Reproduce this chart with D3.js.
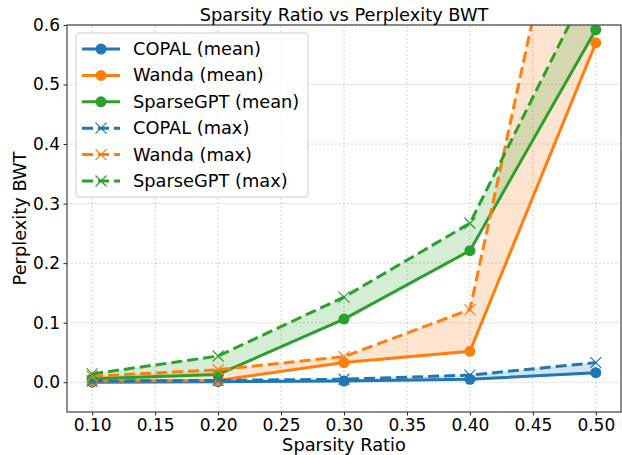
<!DOCTYPE html>
<html>
<head>
<meta charset="utf-8">
<script src="https://cdn.jsdelivr.net/npm/d3@7"></script>
<style>
  body { margin: 0; background: #fff; }
  text { font-family: "DejaVu Sans", sans-serif; fill: #000; }
</style>
</head>
<body>
<div id="chart"></div>
<script>
// values
var ratios = [0.1, 0.2, 0.3, 0.4, 0.5];
var copalMean = [0.000, 0.001, 0.002, 0.005, 0.016];
var copalMax = [0.002, 0.003, 0.005, 0.012, 0.033];
var wandaMean = [0.002, 0.003, 0.033, 0.052, 0.570];
var wandaMax = [0.010, 0.021, 0.043, 0.122, 1.10];
var sparseMean = [0.006, 0.013, 0.106, 0.221, 0.592];
var sparseMax = [0.014, 0.044, 0.143, 0.267, 0.69];
var xTicks = [0.10, 0.15, 0.20, 0.25, 0.30, 0.35, 0.40, 0.45, 0.50];
var yTicks = [0.0, 0.1, 0.2, 0.3, 0.4, 0.5, 0.6];

var methods = [
  { name: 'COPAL', color: '#1f77b4', mean: copalMean, max: copalMax },
  { name: 'Wanda', color: '#ff7f0e', mean: wandaMean, max: wandaMax },
  { name: 'SparseGPT', color: '#2ca02c', mean: sparseMean, max: sparseMax }
];

var width = 622, height = 455;
var margin = { left: 67, right: 1, top: 25, bottom: 43 };
var fontSize = '17.8px';

var x = d3.scaleLinear().domain([0.08, 0.52]).range([margin.left, width - margin.right]);
var y = d3.scaleLinear().domain([-0.05, 0.6]).range([height - margin.bottom, margin.top]);

var svg = d3.select('#chart').append('svg')
  .attr('width', width)
  .attr('height', height);

svg.append('defs').append('clipPath').attr('id', 'plot')
  .append('rect')
  .attr('x', margin.left).attr('y', margin.top)
  .attr('width', x.range()[1] - x.range()[0])
  .attr('height', y.range()[0] - y.range()[1]);

// grid
var grid = svg.append('g');
grid.selectAll('.gx').data(xTicks).enter().append('line')
  .attr('x1', function(d){ return x(d); }).attr('x2', function(d){ return x(d); })
  .attr('y1', y.range()[0]).attr('y2', y.range()[1])
  .attr('stroke', '#b0b0b0').attr('stroke-width', 0.8)
  .attr('stroke-dasharray', '2,2').attr('opacity', 0.7);
grid.selectAll('.gy').data(yTicks).enter().append('line')
  .attr('y1', function(d){ return y(d); }).attr('y2', function(d){ return y(d); })
  .attr('x1', x.range()[0]).attr('x2', x.range()[1])
  .attr('stroke', '#b0b0b0').attr('stroke-width', 0.8)
  .attr('stroke-dasharray', '2,2').attr('opacity', 0.7);

var plot = svg.append('g').attr('clip-path', 'url(#plot)');

var line = function(vals) {
  return d3.line()
    .x(function(d, i){ return x(ratios[i]); })
    .y(function(d){ return y(d); })(vals);
};

// shaded band between mean and max
methods.forEach(function(m) {
  var area = d3.area()
    .x(function(d, i){ return x(ratios[i]); })
    .y0(function(d, i){ return y(m.mean[i]); })
    .y1(function(d){ return y(d); });
  plot.append('path')
    .attr('d', area(m.max))
    .attr('fill', m.color)
    .attr('fill-opacity', 0.2);
});

// mean lines
methods.forEach(function(m) {
  plot.append('path')
    .attr('d', line(m.mean))
    .attr('fill', 'none')
    .attr('stroke', m.color)
    .attr('stroke-width', 3);
  plot.selectAll(null).data(m.mean).enter().append('circle')
    .attr('cx', function(d, i){ return x(ratios[i]); })
    .attr('cy', function(d){ return y(d); })
    .attr('r', 5.5)
    .attr('fill', m.color);
});

var cross = function(sel, cx, cy, s, color) {
  sel.append('path')
    .attr('d', 'M' + (cx - s) + ',' + (cy - s) + 'L' + (cx + s) + ',' + (cy + s) +
               'M' + (cx - s) + ',' + (cy + s) + 'L' + (cx + s) + ',' + (cy - s))
    .attr('stroke', color)
    .attr('stroke-width', 1.2)
    .attr('fill', 'none');
};

// max lines
methods.forEach(function(m) {
  plot.append('path')
    .attr('d', line(m.max))
    .attr('fill', 'none')
    .attr('stroke', m.color)
    .attr('stroke-width', 3)
    .attr('stroke-dasharray', '11,5');
  m.max.forEach(function(d, i) {
    cross(plot, x(ratios[i]), y(d), 5.5, m.color);
  });
});

// axes
var xAxis = svg.append('g')
  .attr('transform', 'translate(0,' + y.range()[0] + ')')
  .call(d3.axisBottom(x).tickValues(xTicks).tickFormat(d3.format('.2f')).tickSize(3.5).tickPadding(3));
var yAxis = svg.append('g')
  .attr('transform', 'translate(' + x.range()[0] + ',0)')
  .call(d3.axisLeft(y).tickValues(yTicks).tickFormat(d3.format('.1f')).tickSize(3.5).tickPadding(3.5));
[xAxis, yAxis].forEach(function(a) {
  a.select('.domain').remove();
  a.selectAll('text').style('font-size', '17px').style('font-family', '"DejaVu Sans", sans-serif').attr('fill', '#000');
  a.selectAll('line').attr('stroke', '#222').attr('stroke-width', 1);
});

svg.append('rect')
  .attr('x', x.range()[0]).attr('y', y.range()[1])
  .attr('width', x.range()[1] - x.range()[0])
  .attr('height', y.range()[0] - y.range()[1])
  .attr('fill', 'none')
  .attr('stroke', '#444')
  .attr('stroke-width', 1.2);

// titles
svg.append('text')
  .attr('x', (x.range()[0] + x.range()[1]) / 2).attr('y', 21)
  .attr('text-anchor', 'middle').style('font-size', fontSize)
  .text('Sparsity Ratio vs Perplexity BWT');
svg.append('text')
  .attr('x', (x.range()[0] + x.range()[1]) / 2).attr('y', 451)
  .attr('text-anchor', 'middle').style('font-size', fontSize)
  .text('Sparsity Ratio');
svg.append('text')
  .attr('transform', 'translate(26,' + ((y.range()[0] + y.range()[1]) / 2) + ') rotate(-90)')
  .attr('text-anchor', 'middle').style('font-size', fontSize)
  .text('Perplexity BWT');

// legend
var legend = svg.append('g');
legend.append('rect')
  .attr('x', 76).attr('y', 33).attr('width', 232).attr('height', 164)
  .attr('rx', 3)
  .attr('fill', '#fff').attr('fill-opacity', 0.8)
  .attr('stroke', '#ccc').attr('stroke-width', 1);

var entries = [];
methods.forEach(function(m){ entries.push({ label: m.name + ' (mean)', color: m.color, dashed: false }); });
methods.forEach(function(m){ entries.push({ label: m.name + ' (max)', color: m.color, dashed: true }); });

entries.forEach(function(e, i) {
  var ly = 49 + i * 26.4;
  legend.append('line')
    .attr('x1', 82).attr('x2', 120).attr('y1', ly).attr('y2', ly)
    .attr('stroke', e.color).attr('stroke-width', 3)
    .attr('stroke-dasharray', e.dashed ? '11,5' : null);
  if (e.dashed) {
    cross(legend, 101, ly, 5.5, e.color);
  } else {
    legend.append('circle').attr('cx', 101).attr('cy', ly).attr('r', 5.5).attr('fill', e.color);
  }
  legend.append('text')
    .attr('x', 133).attr('y', ly + 6)
    .style('font-size', fontSize)
    .text(e.label);
});
</script>
</body>
</html>
